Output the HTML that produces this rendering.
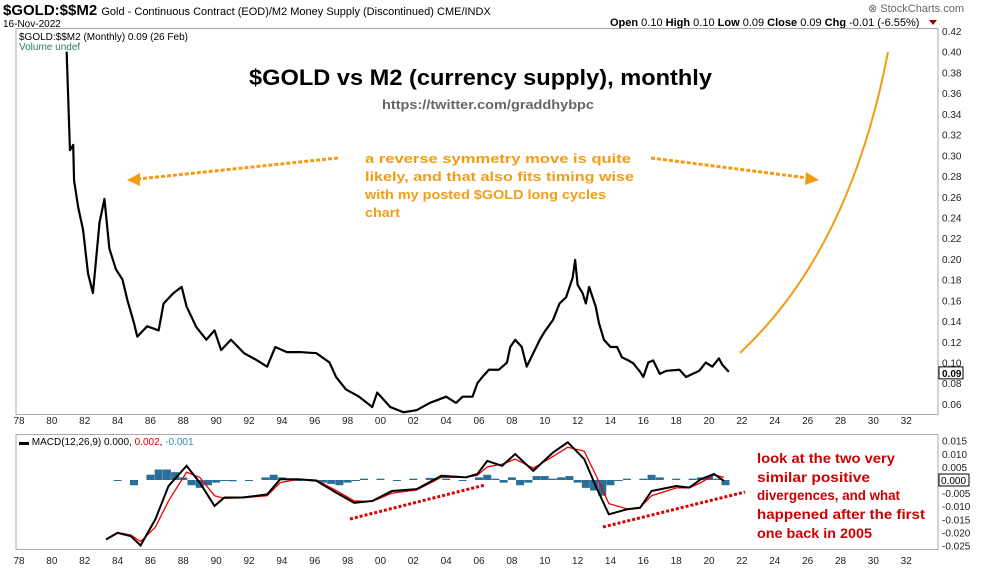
<!DOCTYPE html>
<html><head><meta charset="utf-8"><style>
body{margin:0;background:#fff;width:990px;height:569px;overflow:hidden;font-family:"Liberation Sans",sans-serif}
svg{display:block}
</style></head><body>
<svg id="c" width="990" height="569" font-family="Liberation Sans, sans-serif">
<text x="3" y="15" font-size="15" font-weight="bold">$GOLD:$$M2 <tspan font-size="11" font-weight="normal">Gold - Continuous Contract (EOD)/M2 Money Supply (Discontinued) CME/INDX</tspan></text>
<text x="3" y="27" font-size="10">16-Nov-2022</text>
<text x="868" y="12" font-size="11" fill="#666">⊗ StockCharts.com</text>
<text x="610" y="26" font-size="11"><tspan font-weight="bold">Open</tspan> 0.10 <tspan font-weight="bold">High</tspan> 0.10 <tspan font-weight="bold">Low</tspan> 0.09 <tspan font-weight="bold">Close</tspan> 0.09 <tspan font-weight="bold">Chg</tspan> -0.01 (-6.55%)</text>
<path d="M929 20 L937 20 L933 25 Z" fill="#900"/>
<rect x="16" y="28.5" width="922" height="386" fill="none" stroke="#aaa"/>
<rect x="16" y="434.5" width="922" height="115" fill="none" stroke="#aaa"/>
<text x="19" y="40" font-size="10">$GOLD:$$M2 (Monthly) 0.09 (26 Feb)</text>
<text x="19" y="50" font-size="10" fill="#2e7d5b">Volume undef</text>
<text x="249" y="85" font-size="22" font-weight="bold" textLength="463" lengthAdjust="spacingAndGlyphs">$GOLD vs M2 (currency supply), monthly</text>
<text x="382" y="109" font-size="13" font-weight="bold" fill="#666" textLength="212" lengthAdjust="spacingAndGlyphs">https://twitter.com/graddhybpc</text>
<g font-size="13" font-weight="bold" fill="#f39c12">
<text x="365" y="163" textLength="266" lengthAdjust="spacingAndGlyphs">a reverse symmetry move is quite</text>
<text x="365" y="181" textLength="269" lengthAdjust="spacingAndGlyphs">likely, and that also fits timing wise</text>
<text x="365" y="199" textLength="241" lengthAdjust="spacingAndGlyphs">with my posted $GOLD long cycles</text>
<text x="365" y="217" textLength="35" lengthAdjust="spacingAndGlyphs">chart</text></g>
<line x1="338" y1="158" x2="138" y2="179" stroke="#f39c12" stroke-width="3" stroke-dasharray="4,2"/>
<path d="M127 180 L140 173 L140 186 Z" fill="#f39c12"/>
<line x1="651" y1="158" x2="808" y2="178" stroke="#f39c12" stroke-width="3" stroke-dasharray="4,2"/>
<path d="M819 180 L806 172 L805 185 Z" fill="#f39c12"/>
<path d="M740 353 Q850 250 888 52" fill="none" stroke="#f39c12" stroke-width="2"/>
<text x="19" y="445" font-size="10">▬ MACD(12,26,9) 0.000, <tspan fill="#d00">0.002</tspan>, <tspan fill="#2b8cbe">-0.001</tspan></text>
<line x1="350" y1="519" x2="485" y2="485" stroke="#d00" stroke-width="3" stroke-dasharray="3,2"/>
<line x1="603" y1="527" x2="745" y2="492" stroke="#d00" stroke-width="3" stroke-dasharray="3,2"/>
<g font-size="14" font-weight="bold" fill="#c00">
<text x="757" y="463" textLength="138" lengthAdjust="spacingAndGlyphs">look at the two very</text>
<text x="757" y="482" textLength="113" lengthAdjust="spacingAndGlyphs">similar positive</text>
<text x="757" y="500" textLength="143" lengthAdjust="spacingAndGlyphs">divergences, and what</text>
<text x="757" y="519" textLength="168" lengthAdjust="spacingAndGlyphs">happened after the first</text>
<text x="757" y="538" textLength="115" lengthAdjust="spacingAndGlyphs">one back in 2005</text></g>
<g id="g"></g>
</svg>
<script>
const priceYears=[1980.9,1981.0,1981.1,1981.3,1981.35,1981.6,1981.9,1982.2,1982.5,1982.9,1983.2,1983.5,1983.9,1984.3,1984.6,1985.0,1985.2,1985.8,1986.5,1986.8,1987.4,1987.9,1988.2,1988.8,1989.4,1989.9,1990.3,1990.9,1991.7,1992.5,1993.1,1993.6,1994.3,1995.2,1996.1,1996.9,1997.3,1997.9,1998.7,1999.5,1999.8,2000.6,2001.4,2002.2,2003.0,2004.0,2004.6,2005.0,2005.6,2005.9,2006.2,2006.6,2007.2,2007.7,2007.9,2008.2,2008.6,2008.9,2009.3,2009.7,2010.0,2010.5,2010.9,2011.3,2011.7,2011.85,2012.0,2012.3,2012.5,2012.7,2013.1,2013.3,2013.6,2014.0,2014.4,2014.7,2015.1,2015.4,2015.8,2016.0,2016.3,2016.6,2017.0,2017.4,2018.2,2018.6,2019.0,2019.4,2019.8,2020.2,2020.6,2020.8,2021.2];
const priceValues=[0.40,0.353,0.305,0.31,0.276,0.25,0.228,0.186,0.167,0.235,0.258,0.21,0.19,0.18,0.16,0.138,0.125,0.135,0.131,0.157,0.167,0.173,0.154,0.134,0.122,0.131,0.112,0.122,0.109,0.102,0.096,0.115,0.11,0.11,0.109,0.10,0.086,0.074,0.067,0.057,0.071,0.057,0.052,0.054,0.061,0.067,0.061,0.067,0.067,0.08,0.086,0.093,0.093,0.10,0.115,0.122,0.115,0.096,0.109,0.122,0.13,0.141,0.157,0.163,0.182,0.199,0.175,0.167,0.157,0.173,0.154,0.138,0.122,0.115,0.115,0.105,0.102,0.099,0.091,0.086,0.10,0.102,0.089,0.092,0.093,0.086,0.089,0.092,0.10,0.096,0.104,0.098,0.091];
const macdYears=[1983.3,1984,1984.8,1985.4,1986.3,1987.1,1988.2,1989,1989.9,1990.5,1991.6,1993.1,1993.9,1995,1996.1,1997.3,1998.4,1999.5,2000.7,2002.2,2003.7,2005.2,2005.9,2006.5,2007.4,2008.2,2009.3,2010.5,2011.4,2012.4,2013.1,2013.9,2015,2015.8,2016.5,2018,2018.8,2019.5,2020.3,2020.9];
const macdValues=[-0.0227,-0.0202,-0.0214,-0.025,-0.015,-0.0023,0.0054,-0.001,-0.0099,-0.0067,-0.0067,-0.0055,0.0003,0.0003,-0.0003,-0.0048,-0.0087,-0.008,-0.0042,-0.0035,0.0016,0.001,0.0023,0.0073,0.0054,0.0099,0.0035,0.0105,0.0144,0.008,-0.0023,-0.0131,-0.0112,-0.0106,-0.0042,-0.0023,-0.0029,0.0003,0.0023,-0.0003];
const signalValues=[-0.0225,-0.020,-0.021,-0.0235,-0.018,-0.008,0.003,0.001,-0.006,-0.007,-0.0068,-0.006,-0.001,0.0003,0,-0.004,-0.008,-0.0082,-0.005,-0.0038,0.001,0.001,0.0018,0.005,0.006,0.008,0.0045,0.009,0.0125,0.011,0.002,-0.009,-0.011,-0.0105,-0.006,-0.003,-0.003,-0.001,0.002,0.001];
const histYears=[1984,1985,1986,1986.5,1987,1987.5,1988,1988.5,1989,1989.5,1990,1990.5,1991,1992,1993,1993.5,1994,1995,1996,1996.5,1997,1997.5,1998,1998.5,1999,2000,2001,2002,2003,2004,2005,2006,2006.5,2007,2007.5,2008,2008.5,2009,2009.5,2010,2010.5,2011,2011.5,2012,2012.5,2013,2013.5,2014,2014.5,2015,2016,2016.5,2017,2018,2019,2019.5,2020,2020.5,2021];
const histValues=[0,-0.002,0.002,0.004,0.004,0.003,0.001,-0.002,-0.003,-0.002,-0.001,0,-0.0005,0,0.001,0.002,0.001,0,-0.0005,-0.001,-0.0015,-0.002,-0.001,0,0.0005,0.0005,0,0.0005,0.0008,0.0005,0,0.001,0.002,0.0005,-0.001,0.001,-0.002,-0.001,0.0015,0.0015,0.0005,0.001,0.0015,-0.001,-0.003,-0.004,-0.006,-0.002,0,0.0005,0.0005,0.002,0.001,0.0005,0.0005,0.001,0.0015,0.0005,-0.002];
const yearTicks=[1978,1980,1982,1984,1986,1988,1990,1992,1994,1996,1998,2000,2002,2004,2006,2008,2010,2012,2014,2016,2018,2020,2022,2024,2026,2028,2030,2032];
const priceTicks=[0.06,0.08,0.10,0.12,0.14,0.16,0.18,0.20,0.22,0.24,0.26,0.28,0.30,0.32,0.34,0.36,0.38,0.40,0.42];
const macdTicks=[0.015,0.010,0.005,-0.005,-0.010,-0.015,-0.020,-0.025];
const lastPrice=0.09, lastMacd=0.000;

const NS='http://www.w3.org/2000/svg';
const G=document.getElementById('g');
const X=y=>19+(y-1978)*16.43;
const YP=v=>31+(0.42-v)/0.02*20.72;
const YM=v=>480-v/0.005*13.1;
function mk(t,a){const e=document.createElementNS(NS,t);for(const k in a)e.setAttribute(k,a[k]);G.appendChild(e);return e;}
yearTicks.forEach(y=>{
 [424,564].forEach((yy,i)=>{
  const t=mk('text',{x:X(y),y:yy,'font-size':10,'text-anchor':'middle',fill:'#222'});
  t.textContent=String(y%100).padStart(2,'0');
  
  
 });
});
priceTicks.forEach(v=>{
 const t=mk('text',{x:942,y:YP(v)+4,'font-size':10,fill:'#222'});
 t.textContent=v.toFixed(2);
 
 
});
macdTicks.forEach(v=>{
 const t=mk('text',{x:942,y:YM(v)+4,'font-size':10,fill:'#222'});
 t.textContent=v.toFixed(3);
 
 
});
const pl=mk('polyline',{points:priceYears.map((y,i)=>X(y)+','+YP(priceValues[i])).join(' '),fill:'none',stroke:'#000','stroke-width':2.2,'stroke-linejoin':'round'});


const bx=mk('rect',{x:939,y:YP(lastPrice)-6,width:24,height:12,fill:'#fff',stroke:'#000'});


const bt=mk('text',{x:942,y:YP(lastPrice)+4,'font-size':10,'font-weight':'bold'});
bt.textContent=lastPrice.toFixed(2);


histYears.forEach((y,i)=>{
 const v=histValues[i],y0=YM(0),y1=YM(v);
 const r=mk('rect',{x:X(y)-4,y:Math.min(y0,y1),width:8,height:Math.max(1,Math.abs(y1-y0)),fill:'#2a6f97'});
 
 
});
const sl=mk('polyline',{points:macdYears.map((y,i)=>X(y)+','+YM(signalValues[i])).join(' '),fill:'none',stroke:'#e00','stroke-width':1.3});


const ml=mk('polyline',{points:macdYears.map((y,i)=>X(y)+','+YM(macdValues[i])).join(' '),fill:'none',stroke:'#000','stroke-width':2});


const mb=mk('rect',{x:939,y:YM(lastMacd)-6,width:30,height:12,fill:'#fff',stroke:'#000'});


const mt=mk('text',{x:941,y:YM(lastMacd)+4,'font-size':10});
mt.textContent=lastMacd.toFixed(3);


</script>
</body></html>
